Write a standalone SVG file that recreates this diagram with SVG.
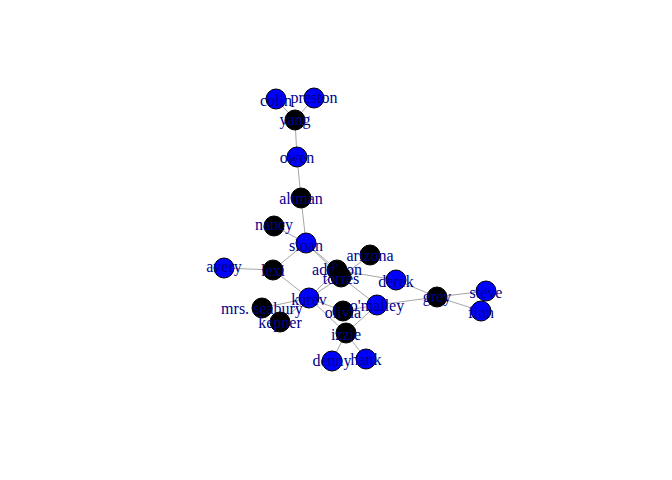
<svg xmlns="http://www.w3.org/2000/svg" width="672" height="480" viewBox="0 0 672 480">
<style>
.e{stroke:#a6a6a6;stroke-width:1;fill:none}
.b{fill:#0000ff;stroke:#000;stroke-width:1}
.k{fill:#000;stroke:#000;stroke-width:1}
text{font-family:"Liberation Serif","Times New Roman",serif;font-size:16px;fill:#00008b;text-anchor:middle;dominant-baseline:central}
</style>
<rect width="672" height="480" fill="#fff"/>
<g id="edges">
<line class="e" x1="276" y1="99" x2="295" y2="120"/>
<line class="e" x1="314" y1="98" x2="295" y2="120"/>
<line class="e" x1="295" y1="120" x2="297" y2="157"/>
<line class="e" x1="297" y1="157" x2="301" y2="198"/>
<line class="e" x1="301" y1="198" x2="306" y2="243"/>
<line class="e" x1="274" y1="226" x2="306" y2="243"/>
<line class="e" x1="306" y1="243" x2="273" y2="270"/>
<line class="e" x1="306" y1="243" x2="337" y2="270"/>
<line class="e" x1="306" y1="243" x2="341" y2="277"/>
<line class="e" x1="224" y1="268" x2="273" y2="270"/>
<line class="e" x1="273" y1="270" x2="309" y2="298"/>
<line class="e" x1="337" y1="270" x2="309" y2="298"/>
<line class="e" x1="341" y1="277" x2="309" y2="298"/>
<line class="e" x1="341" y1="277" x2="370" y2="255"/>
<line class="e" x1="337" y1="270" x2="396" y2="280"/>
<line class="e" x1="341" y1="277" x2="377" y2="305"/>
<line class="e" x1="396" y1="280" x2="437" y2="297"/>
<line class="e" x1="377" y1="305" x2="437" y2="297"/>
<line class="e" x1="437" y1="297" x2="486" y2="291"/>
<line class="e" x1="437" y1="297" x2="481" y2="311"/>
<line class="e" x1="309" y1="298" x2="343" y2="311"/>
<line class="e" x1="309" y1="298" x2="346" y2="333"/>
<line class="e" x1="309" y1="298" x2="262" y2="308"/>
<line class="e" x1="309" y1="298" x2="280" y2="322"/>
<line class="e" x1="343" y1="311" x2="377" y2="305"/>
<line class="e" x1="346" y1="333" x2="377" y2="305"/>
<line class="e" x1="346" y1="333" x2="332" y2="361"/>
<line class="e" x1="346" y1="333" x2="366" y2="359"/>
</g>
<g id="colin"><circle class="b" cx="276" cy="99" r="10"/><text x="276" y="100">colin</text></g>
<g id="preston"><circle class="b" cx="314" cy="98" r="10"/><text x="314" y="97">preston</text></g>
<g id="yang"><circle class="k" cx="295" cy="120" r="10"/><text x="295" y="119">yang</text></g>
<g id="owen"><circle class="b" cx="297" cy="157" r="10"/><text x="297" y="157">owen</text></g>
<g id="altman"><circle class="k" cx="301" cy="198" r="10"/><text x="301" y="198">altman</text></g>
<g id="nancy"><circle class="k" cx="274" cy="226" r="10"/><text x="274" y="224">nancy</text></g>
<g id="sloan"><circle class="b" cx="306" cy="243" r="10"/><text x="306" y="245">sloan</text></g>
<g id="arizona"><circle class="k" cx="370" cy="255" r="10"/><text x="370" y="255">arizona</text></g>
<g id="avery"><circle class="b" cx="224" cy="268" r="10"/><text x="224" y="266">avery</text></g>
<g id="lexi"><circle class="k" cx="273" cy="270" r="10"/><text x="273" y="270">lexi</text></g>
<g id="addison"><circle class="k" cx="337" cy="270" r="10"/><text x="337" y="269">addison</text></g>
<g id="torres"><circle class="k" cx="341" cy="277" r="10"/><text x="341" y="278">torres</text></g>
<g id="derek"><circle class="b" cx="396" cy="280" r="10"/><text x="396" y="281">derek</text></g>
<g id="grey"><circle class="k" cx="437" cy="297" r="10"/><text x="437" y="296">grey</text></g>
<g id="steve"><circle class="b" cx="486" cy="291" r="10"/><text x="486" y="292">steve</text></g>
<g id="finn"><circle class="b" cx="481" cy="311" r="10"/><text x="481" y="312">finn</text></g>
<g id="mrs-seabury"><circle class="k" cx="262" cy="308" r="10"/><text x="262" y="308">mrs. seabury</text></g>
<g id="kepner"><circle class="k" cx="280" cy="322" r="10"/><text x="280" y="322">kepner</text></g>
<g id="karev"><circle class="b" cx="309" cy="298" r="10"/><text x="309" y="299">karev</text></g>
<g id="olivia"><circle class="k" cx="343" cy="311" r="10"/><text x="343" y="312">olivia</text></g>
<g id="omalley"><circle class="b" cx="377" cy="305" r="10"/><text x="377" y="305">o'malley</text></g>
<g id="izzie"><circle class="k" cx="346" cy="333" r="10"/><text x="346" y="334">izzie</text></g>
<g id="denny"><circle class="b" cx="332" cy="361" r="10"/><text x="332" y="360">denny</text></g>
<g id="hank"><circle class="b" cx="366" cy="359" r="10"/><text x="366" y="359">hank</text></g>
</svg>
